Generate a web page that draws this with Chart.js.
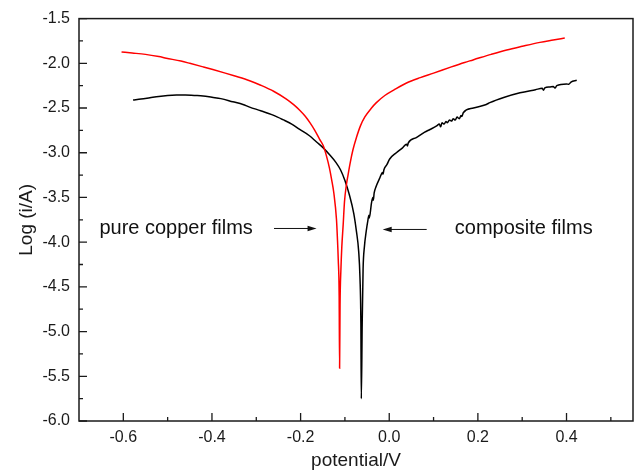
<!DOCTYPE html>
<html>
<head>
<meta charset="utf-8">
<script src="https://cdn.jsdelivr.net/npm/chart.js@4"></script>
<style>
  html, body { margin: 0; padding: 0; background: #fff; }
  #wrap { width: 639px; height: 475px; position: relative; }
</style>
</head>
<body>
<div id="wrap"><canvas id="c"></canvas></div>
<script>
// Tafel polarization curves: potential (V) vs log current (A)

const copperPotential = [
  -0.604, -0.58, -0.55, -0.52, -0.503, -0.47, -0.45, -0.42, -0.398, -0.37,
  -0.35, -0.315, -0.29, -0.26, -0.232, -0.215, -0.202, -0.19, -0.179, -0.168,
  -0.157, -0.149, -0.142, -0.135, -0.13, -0.125, -0.119, -0.117, -0.115, -0.113,
  -0.112, -0.111, -0.109, -0.107, -0.104, -0.101, -0.097, -0.093, -0.088, -0.082,
  -0.074, -0.065, -0.055, -0.04, -0.029, -0.01, 0.01, 0.039, 0.07, 0.10,
  0.137, 0.17, 0.189, 0.23, 0.265, 0.30, 0.34, 0.37, 0.396
];
const copperLogI = [
  -1.874, -1.885, -1.90, -1.925, -1.943, -1.975, -2.0, -2.04, -2.07, -2.11,
  -2.14, -2.195, -2.245, -2.315, -2.40, -2.465, -2.525, -2.59, -2.664, -2.75,
  -2.85, -2.92, -3.03, -3.17, -3.30, -3.45, -3.75, -3.95, -4.20, -4.60,
  -5.41, -4.70, -4.30, -4.05, -3.81, -3.55, -3.37, -3.25, -3.11, -2.97,
  -2.83, -2.70, -2.60, -2.50, -2.44, -2.36, -2.30, -2.22, -2.16, -2.11,
  -2.045, -1.99, -1.962, -1.90, -1.851, -1.81, -1.766, -1.74, -1.718
];

const compositePotential = [
  -0.578, -0.56, -0.54, -0.52, -0.50, -0.48, -0.46, -0.44, -0.42, -0.40,
  -0.38, -0.353, -0.33, -0.315, -0.29, -0.262, -0.24, -0.22, -0.202, -0.18,
  -0.164, -0.15, -0.135, -0.12, -0.11, -0.10, -0.09, -0.08, -0.074, -0.069,
  -0.066, -0.064, -0.063, -0.061, -0.059, -0.056, -0.052, -0.048, -0.046, -0.045,
  -0.040, -0.037, -0.036, -0.034, -0.029, -0.022, -0.015, -0.014, -0.012, -0.005,
  0.001, 0.016, 0.03, 0.039, 0.041, 0.043, 0.061, 0.08, 0.092, 0.107,
  0.113, 0.116, 0.119, 0.124, 0.128, 0.131, 0.136, 0.141, 0.144, 0.149,
  0.153, 0.158, 0.162, 0.164, 0.167, 0.19, 0.219, 0.227, 0.26, 0.295,
  0.33, 0.345, 0.348, 0.351, 0.362, 0.37, 0.374, 0.378, 0.40, 0.405,
  0.41, 0.423
];
const compositeLogI = [
  -2.41, -2.40, -2.385, -2.37, -2.36, -2.355, -2.355, -2.36, -2.365, -2.38,
  -2.395, -2.43, -2.46, -2.49, -2.53, -2.58, -2.63, -2.68, -2.74, -2.81,
  -2.88, -2.94, -3.02, -3.11, -3.19, -3.31, -3.47, -3.68, -3.88, -4.10,
  -4.40, -4.90, -5.75, -4.90, -4.30, -4.05, -3.88, -3.75, -3.70, -3.73,
  -3.56, -3.50, -3.53, -3.45, -3.37, -3.29, -3.22, -3.24, -3.19, -3.13,
  -3.07, -3.00, -2.945, -2.905, -2.925, -2.89, -2.83, -2.77, -2.74, -2.70,
  -2.68, -2.71, -2.665, -2.68, -2.65, -2.665, -2.635, -2.645, -2.62, -2.635,
  -2.60, -2.62, -2.585, -2.595, -2.553, -2.50, -2.46, -2.44, -2.38, -2.33,
  -2.295, -2.28, -2.30, -2.275, -2.265, -2.26, -2.275, -2.25, -2.23, -2.235,
  -2.21, -2.19
];

const xTickLabels = [-0.6, -0.4, -0.2, 0.0, 0.2, 0.4];
const xMinorTicks = [-0.5, -0.3, -0.1, 0.1, 0.3, 0.5];
const yTickLabels = [-6.0, -5.5, -5.0, -4.5, -4.0, -3.5, -3.0, -2.5, -2.0, -1.5];
const yMinorTicks = [-5.75, -5.25, -4.75, -4.25, -3.75, -3.25, -2.75, -2.25, -1.75];

const seriesNames = ['pure copper films', 'composite films'];

function pairs(xs, ys) { return xs.map((x, i) => ({ x: x, y: ys[i] })); }

// Frame, inward tick marks and the arrowed labels
const decorations = {
  id: 'decorations',
  afterDatasetsDraw(chart) {
    const { ctx, chartArea: a, scales: { x, y } } = chart;
    ctx.save();
    ctx.strokeStyle = '#1a1a1a';
    ctx.lineWidth = 1.5;
    ctx.strokeRect(a.left, a.top, a.right - a.left, a.bottom - a.top);

    ctx.lineWidth = 1.3;
    ctx.beginPath();
    xTickLabels.forEach(v => { const p = x.getPixelForValue(v); ctx.moveTo(p, a.bottom); ctx.lineTo(p, a.bottom - 8); });
    xMinorTicks.forEach(v => { const p = x.getPixelForValue(v); ctx.moveTo(p, a.bottom); ctx.lineTo(p, a.bottom - 4); });
    yTickLabels.forEach(v => { const p = y.getPixelForValue(v); ctx.moveTo(a.left, p); ctx.lineTo(a.left + 8, p); });
    yMinorTicks.forEach(v => { const p = y.getPixelForValue(v); ctx.moveTo(a.left, p); ctx.lineTo(a.left + 4, p); });
    ctx.stroke();

    // labels with arrows pointing at each curve's corrosion dip
    const notes = [
      { text: seriesNames[0], tx: -0.654, ty: -3.85, from: -0.260, to: -0.164, ay: -3.847 },
      { text: seriesNames[1], tx: 0.148, ty: -3.85, from: 0.0845, to: -0.0148, ay: -3.858 }
    ];
    ctx.fillStyle = '#111';
    ctx.font = '20px "Liberation Sans", Arial, sans-serif';
    ctx.textBaseline = 'middle';
    ctx.textAlign = 'left';
    notes.forEach(n => {
      ctx.fillText(n.text, x.getPixelForValue(n.tx), y.getPixelForValue(n.ty));
      const x0 = x.getPixelForValue(n.from), x1 = x.getPixelForValue(n.to), py = y.getPixelForValue(n.ay);
      const dir = Math.sign(x1 - x0);
      ctx.strokeStyle = '#111';
      ctx.lineWidth = 1;
      ctx.beginPath();
      ctx.moveTo(x0, py);
      ctx.lineTo(x1 - dir * 6, py);
      ctx.stroke();
      ctx.beginPath();
      ctx.moveTo(x1, py);
      ctx.lineTo(x1 - dir * 9, py - 2.8);
      ctx.lineTo(x1 - dir * 9, py + 2.8);
      ctx.closePath();
      ctx.fill();
    });
    ctx.restore();
  }
};

const fontFamily = '"Liberation Sans", Arial, sans-serif';

new Chart(document.getElementById('c'), {
  type: 'scatter',
  data: {
    datasets: [
      {
        label: seriesNames[0],
        data: pairs(copperPotential, copperLogI),
        showLine: true,
        borderColor: '#ff0000',
        borderWidth: 1.5,
        pointRadius: 0,
        cubicInterpolationMode: 'monotone'
      },
      {
        label: seriesNames[1],
        data: pairs(compositePotential, compositeLogI),
        showLine: true,
        borderColor: '#000000',
        borderWidth: 1.5,
        pointRadius: 0,
        cubicInterpolationMode: 'monotone'
      }
    ]
  },
  options: {
    responsive: true,
    maintainAspectRatio: false,
    animation: false,
    layout: { padding: { top: 15, right: 6, left: 0, bottom: 0 } },
    plugins: { legend: { display: false }, tooltip: { enabled: false } },
    scales: {
      x: {
        type: 'linear',
        min: -0.7,
        max: 0.55,
        afterFit(s) { s.height = 54; },
        afterBuildTicks(s) { s.ticks = xTickLabels.map(v => ({ value: v })); },
        grid: { display: false, drawTicks: false },
        border: { display: false },
        ticks: {
          padding: 7,
          color: '#1a1a1a',
          font: { family: fontFamily, size: 16 },
          callback: v => v.toFixed(1),
          maxRotation: 0
        },
        title: {
          display: true,
          text: 'potential/V',
          color: '#1a1a1a',
          font: { family: fontFamily, size: 19 },
          padding: { top: 0, bottom: 3 }
        }
      },
      y: {
        type: 'linear',
        min: -6.0,
        max: -1.5,
        afterFit(s) { s.width = 79; },
        afterBuildTicks(s) { s.ticks = yTickLabels.map(v => ({ value: v })); },
        grid: { display: false, drawTicks: false },
        border: { display: false },
        ticks: {
          padding: 9,
          color: '#1a1a1a',
          font: { family: fontFamily, size: 16 },
          callback: v => v.toFixed(1)
        },
        title: {
          display: true,
          text: 'Log (i/A)',
          color: '#1a1a1a',
          font: { family: fontFamily, size: 19 },
          padding: { top: 15, bottom: 0 }
        }
      }
    }
  },
  plugins: [decorations]
});
</script>
</body>
</html>
